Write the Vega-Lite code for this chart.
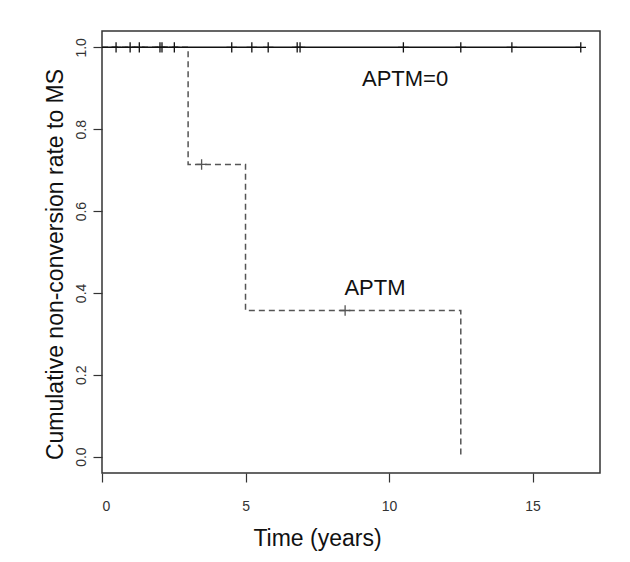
{
  "$schema": "https://vega.github.io/schema/vega-lite/v6.json",
  "width": 498,
  "height": 442,
  "autosize": {"type": "none"},
  "padding": {"left": 102, "top": 31, "right": 30, "bottom": 89},
  "background": "white",
  "config": {
    "view": {"stroke": "#333333", "strokeWidth": 1.5},
    "font": "Liberation Sans",
    "axis": {
      "grid": false,
      "domain": false,
      "tickColor": "#333333",
      "tickSize": 9,
      "tickWidth": 1.2,
      "labelFont": "Liberation Sans Narrow, Liberation Sans",
      "labelFontSize": 14,
      "labelColor": "#333333",
      "titleFont": "Liberation Sans",
      "titleFontSize": 23,
      "titleFontWeight": "normal",
      "titleColor": "#111111"
    }
  },
  "datasets": {
    "curves": [
      {"group": "APTM=0", "time": 0, "surv": 1},
      {"group": "APTM=0", "time": 16.68, "surv": 1},
      {"group": "APTM", "time": 0, "surv": 1},
      {"group": "APTM", "time": 3, "surv": 0.714},
      {"group": "APTM", "time": 5, "surv": 0.357},
      {"group": "APTM", "time": 12.5, "surv": 0}
    ],
    "censors": [
      {"group": "APTM=0", "time": 0.49, "surv": 1},
      {"group": "APTM=0", "time": 0.98, "surv": 1},
      {"group": "APTM=0", "time": 1.3, "surv": 1},
      {"group": "APTM=0", "time": 2.02, "surv": 1},
      {"group": "APTM=0", "time": 2.09, "surv": 1},
      {"group": "APTM=0", "time": 2.52, "surv": 1},
      {"group": "APTM=0", "time": 4.52, "surv": 1},
      {"group": "APTM=0", "time": 5.22, "surv": 1},
      {"group": "APTM=0", "time": 5.79, "surv": 1},
      {"group": "APTM=0", "time": 6.8, "surv": 1},
      {"group": "APTM=0", "time": 6.9, "surv": 1},
      {"group": "APTM=0", "time": 10.5, "surv": 1},
      {"group": "APTM=0", "time": 12.5, "surv": 1},
      {"group": "APTM=0", "time": 14.28, "surv": 1},
      {"group": "APTM=0", "time": 16.68, "surv": 1},
      {"group": "APTM", "time": 3.47, "surv": 0.714},
      {"group": "APTM", "time": 8.47, "surv": 0.357}
    ],
    "labels": [
      {"group": "APTM=0", "time": 10.56, "surv": 0.922, "text": "APTM=0"},
      {"group": "APTM", "time": 9.51, "surv": 0.411, "text": "APTM"}
    ]
  },
  "encoding": {
    "x": {
      "field": "time",
      "type": "quantitative",
      "scale": {"domain": [0, 17.35], "nice": false, "zero": false},
      "axis": {
        "values": [0, 5, 10, 15],
        "labelPadding": 17,
        "title": "Time (years)",
        "titleX": 215,
        "titleY": 65,
        "titleAlign": "center",
        "titleBaseline": "middle"
      }
    },
    "y": {
      "field": "surv",
      "type": "quantitative",
      "scale": {"domain": [-0.04, 1.04], "nice": false, "zero": false},
      "axis": {
        "values": [0, 0.2, 0.4, 0.6, 0.8, 1.0],
        "format": ".1f",
        "labelAngle": 270,
        "labelAlign": "center",
        "labelBaseline": "bottom",
        "labelPadding": 5,
        "title": "Cumulative non-conversion rate to MS",
        "titleX": -47,
        "titleY": 233,
        "titleAlign": "center",
        "titleBaseline": "middle"
      }
    }
  },
  "layer": [
    {
      "data": {"name": "curves"},
      "transform": [{"filter": "datum.group === 'APTM'"}],
      "mark": {"type": "line", "interpolate": "step-after", "color": "#555555", "strokeWidth": 1.5, "strokeDash": [6, 4]}
    },
    {
      "data": {"name": "curves"},
      "transform": [{"filter": "datum.group === 'APTM=0'"}],
      "mark": {"type": "line", "interpolate": "step-after", "color": "#111111", "strokeWidth": 1.5}
    },
    {
      "data": {"name": "censors"},
      "transform": [{"filter": "datum.group === 'APTM=0'"}],
      "mark": {"type": "point", "shape": "M -1 0 L 1 0 M 0 -1 L 0 1", "size": 110, "filled": false, "stroke": "#111111", "strokeWidth": 1.3, "opacity": 1}
    },
    {
      "data": {"name": "censors"},
      "transform": [{"filter": "datum.group === 'APTM'"}],
      "mark": {"type": "point", "shape": "M -1 0 L 1 0 M 0 -1 L 0 1", "size": 110, "filled": false, "stroke": "#555555", "strokeWidth": 1.3, "opacity": 1}
    },
    {
      "data": {"name": "labels"},
      "mark": {"type": "text", "font": "Liberation Sans", "fontSize": 22, "color": "#111111", "align": "center", "baseline": "middle"},
      "encoding": {"text": {"field": "text"}}
    }
  ]
}
